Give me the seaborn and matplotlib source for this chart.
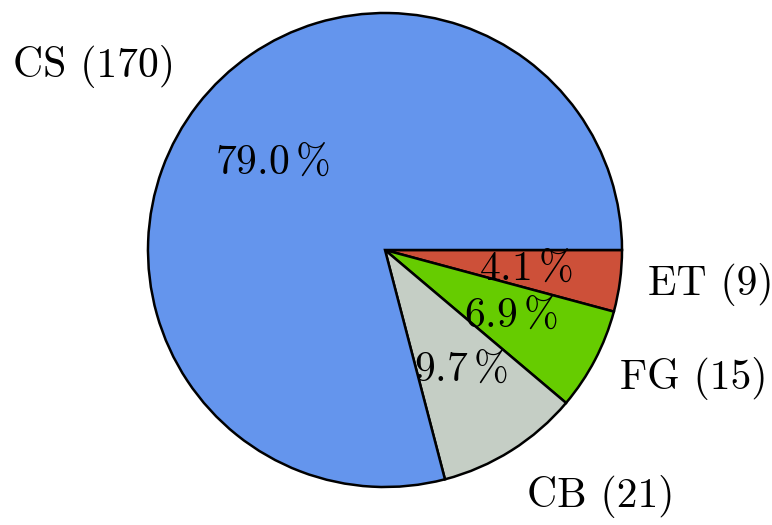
import math
import matplotlib
matplotlib.use('Agg')
import matplotlib.pyplot as plt
import seaborn as sns

sns.set_theme(style='white')
plt.rcParams['font.family'] = 'serif'
plt.rcParams['font.serif'] = ['cmr10', 'DejaVu Serif']
plt.rcParams['mathtext.fontset'] = 'cm'
plt.rcParams['axes.unicode_minus'] = False

# counts per class, in drawing order (clockwise from 3 o'clock)
categories = ['ET', 'FG', 'CB', 'CS']
counts = [9, 15, 21, 170]
colors = ['#cd5039', '#66cc00', '#c5cec5', '#6495ed']

labels = [f'{c} ({n})' for c, n in zip(categories, counts)]
# vertical anchoring of the outer labels, same order as above
label_va = ['center', 'center_baseline', 'top', 'bottom']


def pct_fmt(p):
    # the original truncates to one decimal
    return f'${math.floor(p * 10) / 10:.1f}\\,\\%$'


fig = plt.figure(figsize=(7.72, 5.25), dpi=100)
ax = fig.add_axes([148 / 772, 38 / 525, 474 / 772, 474 / 525])

wedges, texts, autotexts = ax.pie(counts, labels=labels, colors=colors,
                                  startangle=0, counterclock=False,
                                  autopct=pct_fmt, pctdistance=0.6,
                                  labeldistance=1.12,
                                  wedgeprops=dict(edgecolor='black', linewidth=1.8),
                                  textprops=dict(fontsize=30, color='black'))
for t, va in zip(texts, label_va):
    t.set_va(va)

ax.set_xlim(-1, 1)
ax.set_ylim(-1, 1)
ax.set_aspect('auto')
ax.axis('off')

fig.savefig('out.png', dpi=100)
